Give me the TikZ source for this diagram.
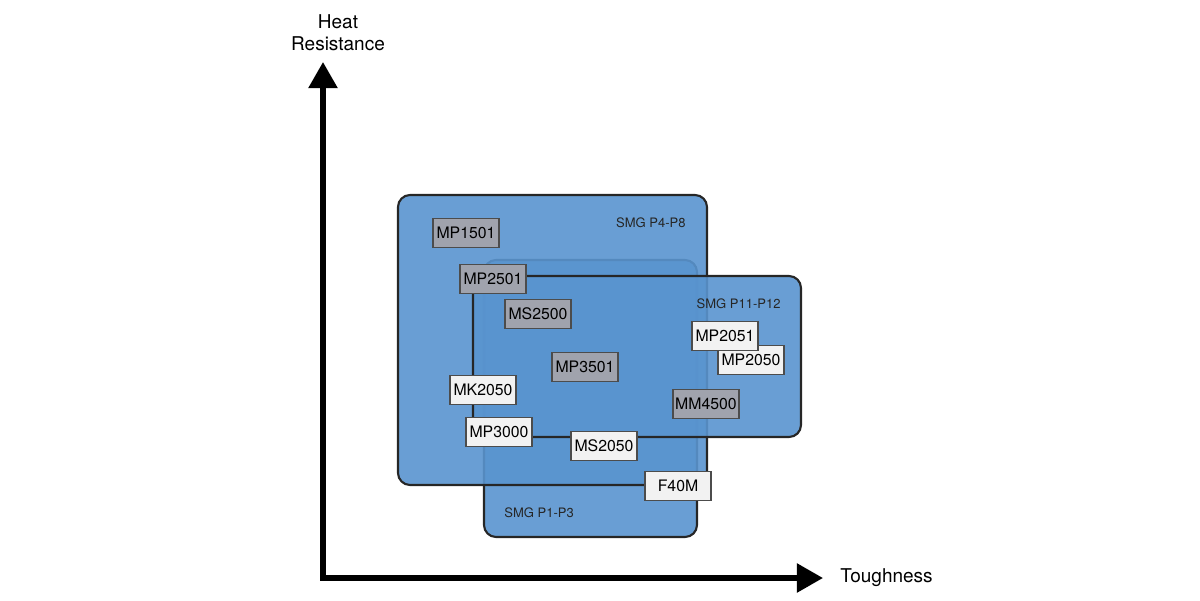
\documentclass[tikz,border=0pt]{standalone}
\usepackage{fontspec}
\setmainfont{TeX Gyre Heros}
\usetikzlibrary{arrows.meta,positioning}

\definecolor{groupblue}{RGB}{89,148,207}
\definecolor{hardgray}{RGB}{160,163,173}
\definecolor{softgray}{RGB}{242,242,242}

\tikzset{
    group/.style={draw=black!85,line width=0.6pt,rounded corners=0.12cm,
        fill=groupblue,fill opacity=0.9},
    grouplabel/.style={font=\fontsize{3.7}{4}\selectfont,text=black!85},
    grade/.style={draw=black!70,line width=0.4pt,minimum width=0.66cm,
        minimum height=0.29cm,inner sep=0pt,font=\fontsize{4.5}{5}\selectfont},
    hard/.style={grade,fill=hardgray},
    soft/.style={grade,fill=softgray},
    axis/.style={line width=1.5pt,-{Triangle[length=0.26cm,width=0.28cm]}},
    axislabel/.style={font=\fontsize{5.4}{6.2}\selectfont,align=center}
}

\begin{document}
\begin{tikzpicture}[x=0.01cm,y=-0.01cm]

\useasboundingbox (0,0) rectangle (1200,600);

% Axes.
\coordinate (origin) at (323,578);
\coordinate (ytop) at (323,62);
\coordinate (xend) at (823,578);
\draw[axis] (origin) -- (ytop);
\draw[axis] ([xshift=-0.75pt]origin) -- (xend);
\node[axislabel] (heat) at (338,33) {Heat\\Resistance};
\node[axislabel,right=0.05cm of xend] (tough) {Toughness};

% Groups, bottom to top.
\draw[group] (484,260) rectangle (697,537);
\node[grouplabel,anchor=south west] (p1p3) at (492,530) {SMG P1-P3};

\draw[group] (398,195) rectangle (707,485);
\node[grouplabel,anchor=north east] (p4p8) at (698,205) {SMG P4-P8};

\draw[group] (473,276) rectangle (801,437);
\node[grouplabel,anchor=north east] (p11p12) at (793,286) {SMG P11-P12};

% Grades.
\node[hard] (mp1501) at (466,233) {MP1501};
\node[hard] (mp2501) at (493,279) {MP2501};
\node[hard] (ms2500) at (538,314) {MS2500};
\node[hard] (mp3501) at (585,367) {MP3501};
\node[soft] (mk2050) at (483,390) {MK2050};
\node[soft] (mp3000) at (499,432) {MP3000};
\node[soft] (ms2050) at (604,446) {MS2050};
\node[soft] (mp2050) at (751,360) {MP2050};
\node[soft] (mp2051) at (725,336) {MP2051};
\node[hard] (mm4500) at (706,404) {MM4500};
\node[soft] (f40m) at (678,486) {F40M};

\end{tikzpicture}
\end{document}
